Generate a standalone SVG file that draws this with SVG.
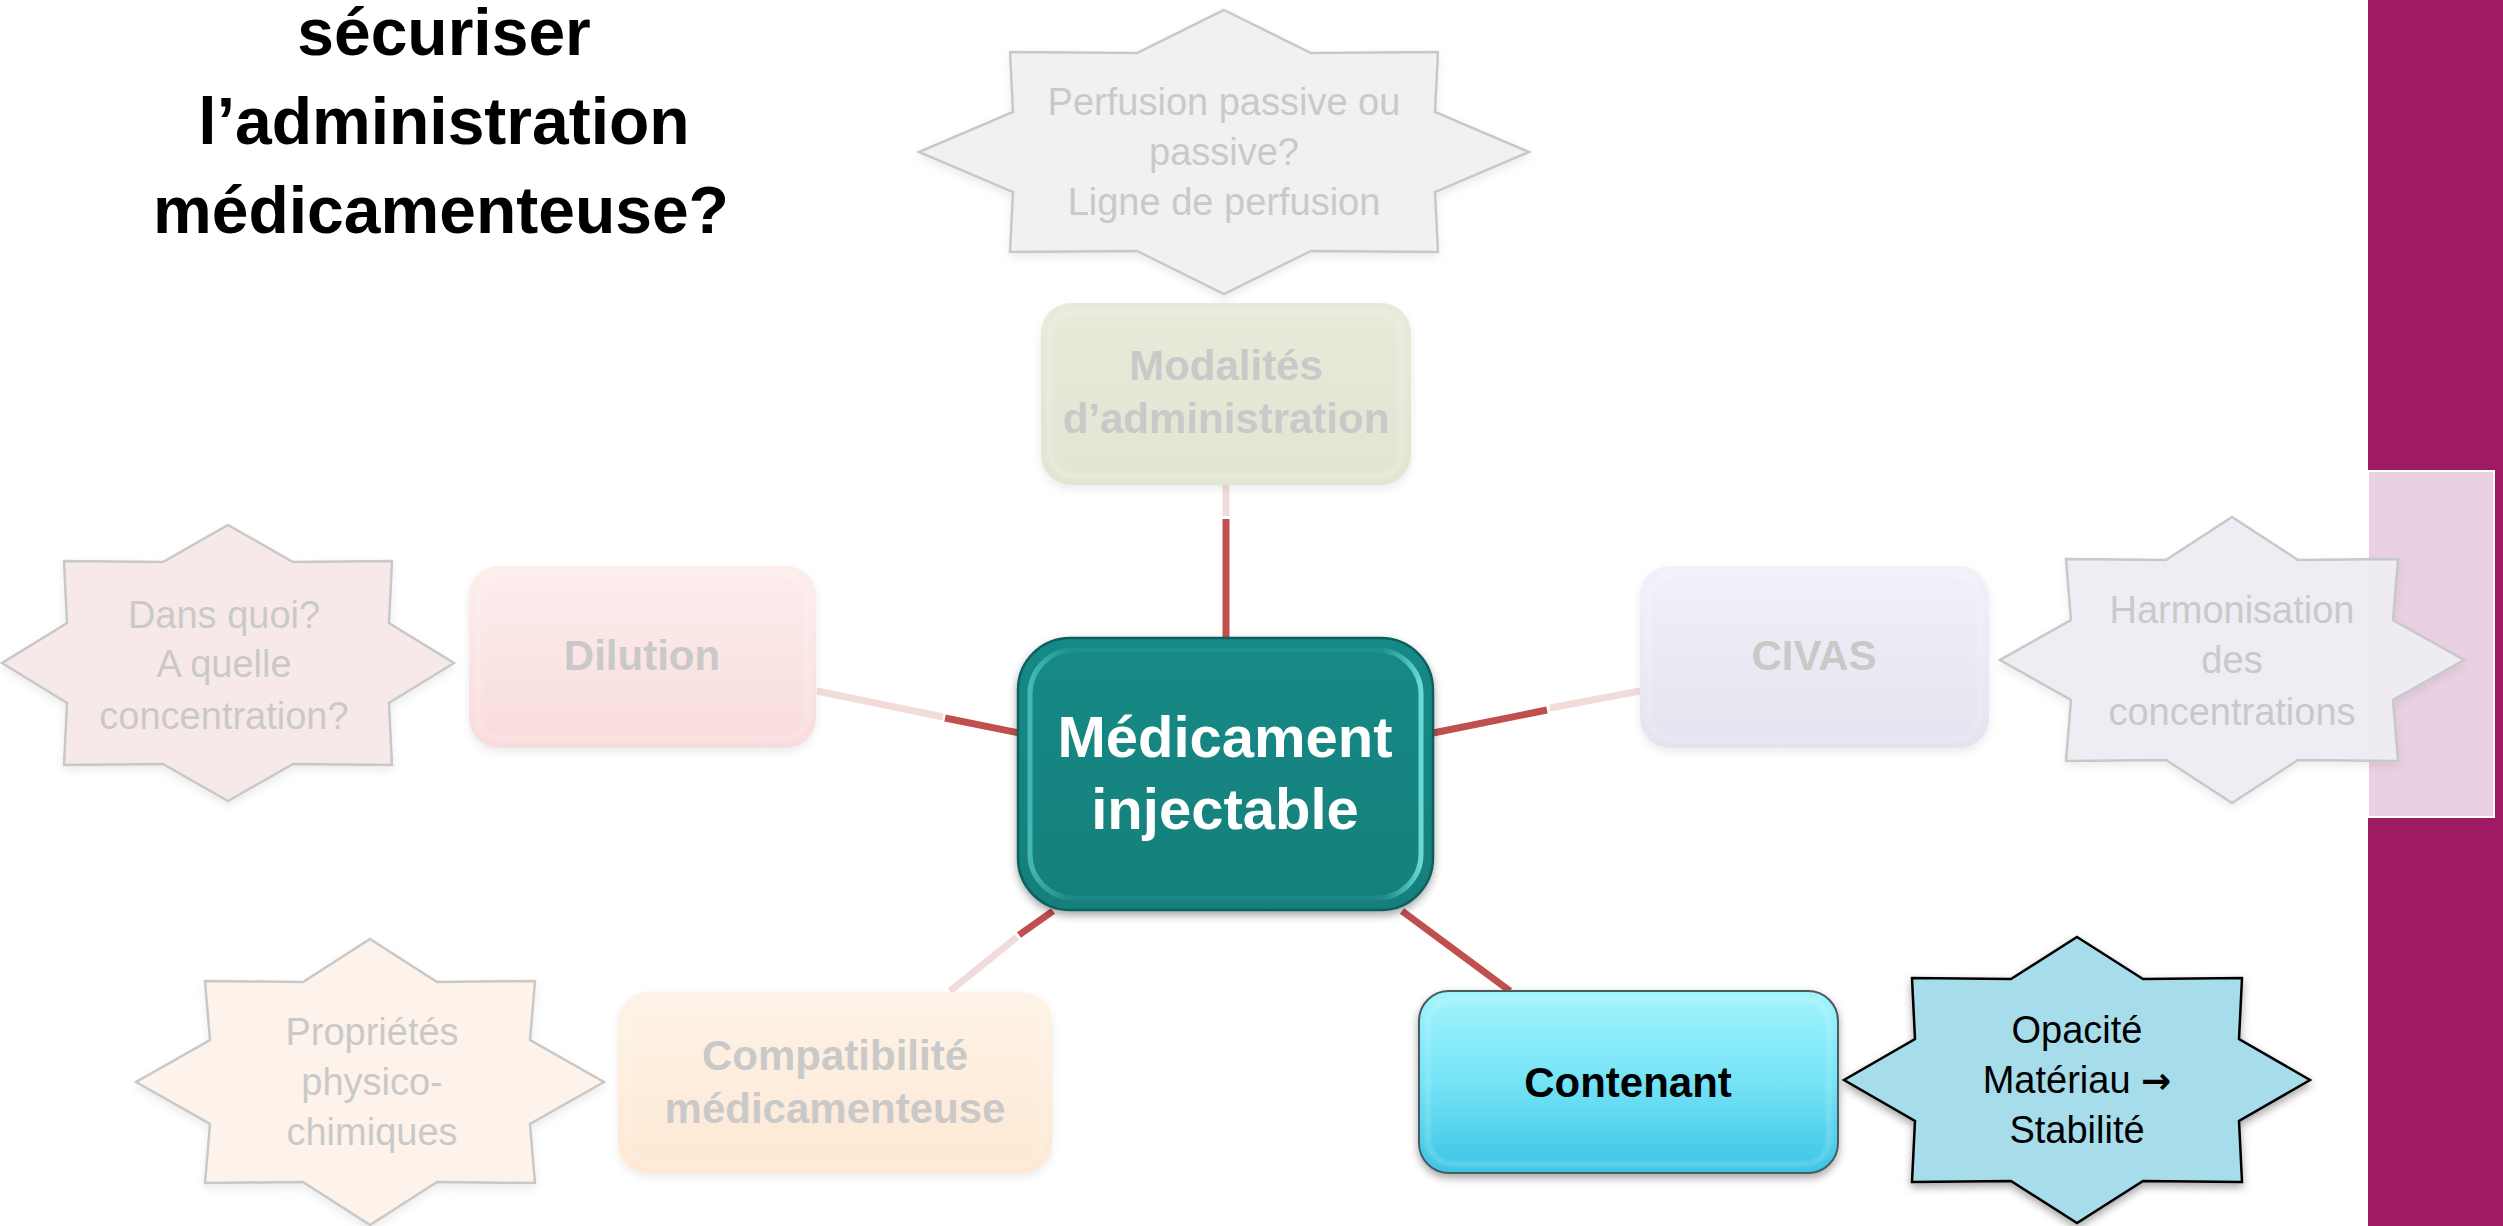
<svg xmlns="http://www.w3.org/2000/svg" width="2503" height="1226" viewBox="0 0 2503 1226">
<defs>
<style>
.t{font-family:"Liberation Sans",Arial,sans-serif;text-anchor:middle}
.title{font-size:66px;font-weight:bold;fill:#000}
.bx{font-size:42px;font-weight:bold}
.st{font-size:38px}
.faded{fill:#C9C9C9}
.center{font-size:58px;font-weight:bold;fill:#FFFFFF}
.red{stroke:#C0504D;stroke-width:7;fill:none}
.pale{stroke:#F2DCDB;stroke-width:7;fill:none}
.fstar{stroke:#C8C8C8;stroke-width:2.5}
.bevel{fill:none;stroke:#FFFFFF;stroke-opacity:0.3;stroke-width:3}
.arrow{font-family:"DejaVu Sans",sans-serif;font-weight:bold;font-size:36px}
</style>
<filter id="sh" x="-10%" y="-10%" width="120%" height="130%">
<feDropShadow dx="0" dy="4" stdDeviation="4" flood-color="#000" flood-opacity="0.35"/>
</filter>
<filter id="shl" x="-10%" y="-10%" width="120%" height="130%">
<feDropShadow dx="0" dy="4" stdDeviation="4" flood-color="#000" flood-opacity="0.08"/>
</filter>
<filter id="blur"><feGaussianBlur stdDeviation="2"/></filter>
<linearGradient id="gTeal" x1="0" y1="0" x2="0" y2="1">
<stop offset="0" stop-color="#168A86"/><stop offset="1" stop-color="#127F7B"/>
</linearGradient>
<linearGradient id="gCyan" x1="0" y1="0" x2="0" y2="1">
<stop offset="0" stop-color="#A3F4FD"/><stop offset="0.5" stop-color="#74E3F6"/><stop offset="1" stop-color="#3BC4E5"/>
</linearGradient>
<linearGradient id="gGreen" x1="0" y1="0" x2="0" y2="1">
<stop offset="0" stop-color="#E6EBDA"/><stop offset="1" stop-color="#E1E6D3"/>
</linearGradient>
<linearGradient id="gPink" x1="0" y1="0" x2="0" y2="1">
<stop offset="0" stop-color="#FDEDED"/><stop offset="1" stop-color="#F9DCDC"/>
</linearGradient>
<linearGradient id="gOrange" x1="0" y1="0" x2="0" y2="1">
<stop offset="0" stop-color="#FEF3E7"/><stop offset="1" stop-color="#FDE8D3"/>
</linearGradient>
<linearGradient id="gLav" x1="0" y1="0" x2="0" y2="1">
<stop offset="0" stop-color="#F3F0FA"/><stop offset="1" stop-color="#E6E2EF"/>
</linearGradient>
<linearGradient id="gTealEdge" x1="0" y1="0" x2="1" y2="0">
<stop offset="0" stop-color="#5FDCDA" stop-opacity="0.6"/><stop offset="0.1" stop-color="#5FDCDA" stop-opacity="0.1"/><stop offset="0.9" stop-color="#5FDCDA" stop-opacity="0.1"/><stop offset="1" stop-color="#7FF0EE" stop-opacity="0.8"/>
</linearGradient>
</defs>

<rect width="2503" height="1226" fill="#FFFFFF"/>

<!-- side band -->
<g id="sideband">
<rect x="2368" y="0" width="135" height="1226" fill="#9E1B64"/>
<rect x="2368" y="471" width="126" height="346" fill="#E9D0E2" stroke="#FFFFFF" stroke-width="2"/>
</g>

<!-- title -->
<g id="title" class="t title">
<text x="444" y="55">sécuriser</text>
<text x="444" y="144">l’administration</text>
<text x="441" y="233">médicamenteuse?</text>
</g>

<!-- connectors -->
<g id="connectors">
<line class="red" x1="1226" y1="638" x2="1226" y2="519"/>
<line class="pale" x1="1226" y1="516" x2="1226" y2="485"/>
<line class="red" x1="1019" y1="733" x2="945" y2="718"/>
<line class="pale" x1="943" y1="717" x2="817" y2="691"/>
<line class="red" x1="1433" y1="733" x2="1547" y2="710"/>
<line class="pale" x1="1550" y1="708" x2="1640" y2="691"/>
<line class="red" x1="1053" y1="911" x2="1019" y2="935"/>
<line class="pale" x1="1017" y1="937" x2="950" y2="991"/>
<line class="red" x1="1402" y1="911" x2="1510" y2="991"/>
</g>

<!-- Perfusion star -->
<g id="star-perfusion">
<polygon class="fstar" fill="#F1F1F1" filter="url(#shl)" points="1224,10 1311,53 1438,52 1435,112 1529,152 1435,192 1438,252 1311,251 1224,294 1137,251 1010,252 1013,192 919,152 1013,112 1010,52 1137,53"/>
<g class="t st faded">
<text x="1224" y="115">Perfusion passive ou</text>
<text x="1224" y="165">passive?</text>
<text x="1224" y="215">Ligne de perfusion</text>
</g>
</g>

<!-- Modalités box -->
<g id="node-modalites">
<rect x="1041" y="303" width="370" height="182" rx="30" fill="url(#gGreen)" filter="url(#shl)"/>
<rect x="1050" y="312" width="352" height="164" rx="24" class="bevel" filter="url(#blur)"/>
<g class="t bx faded">
<text x="1226" y="380">Modalités</text>
<text x="1226" y="433">d’administration</text>
</g>
</g>

<!-- Dans quoi star -->
<g id="star-dilution">
<polygon class="fstar" fill="#F8E9E9" filter="url(#shl)" points="228,525 293,562 392,561 389,623 454,663 389,703 392,765 293,764 228,801 163,764 64,765 67,703 2,663 67,623 64,561 163,562"/>
<g class="t st faded">
<text x="224" y="628">Dans quoi?</text>
<text x="224" y="677">A quelle</text>
<text x="224" y="729">concentration?</text>
</g>
</g>

<!-- Dilution box -->
<g id="node-dilution">
<rect x="469" y="566" width="347" height="182" rx="30" fill="url(#gPink)" filter="url(#shl)"/>
<rect x="478" y="575" width="329" height="164" rx="24" class="bevel" filter="url(#blur)"/>
<text class="t bx faded" x="642" y="670">Dilution</text>
</g>

<!-- CIVAS box -->
<g id="node-civas">
<rect x="1640" y="566" width="349" height="182" rx="30" fill="url(#gLav)" filter="url(#shl)"/>
<rect x="1649" y="575" width="331" height="164" rx="24" class="bevel" filter="url(#blur)"/>
<text class="t bx faded" x="1814" y="670">CIVAS</text>
</g>

<!-- Harmonisation star -->
<g id="star-civas">
<polygon class="fstar" fill="#EFEDF3" fill-opacity="0.95" filter="url(#shl)" points="2232,517 2298,560 2398,559 2393,620 2464,660 2393,700 2398,761 2298,760 2232,803 2166,760 2066,761 2071,700 2000,660 2071,620 2066,559 2166,560"/>
<g class="t st faded">
<text x="2232" y="623">Harmonisation</text>
<text x="2232" y="673">des</text>
<text x="2232" y="725">concentrations</text>
</g>
</g>

<!-- Centre -->
<g id="node-center">
<rect x="1018" y="638" width="415" height="272" rx="52" fill="url(#gTeal)" stroke="#0D605D" stroke-width="2.5" filter="url(#sh)"/>
<rect x="1030" y="650" width="391" height="248" rx="44" fill="none" stroke="url(#gTealEdge)" stroke-width="5"/>
<text class="t center" x="1225" y="757">Médicament</text>
<text class="t center" x="1225" y="829">injectable</text>
</g>

<!-- Compatibilité box -->
<g id="node-compat">
<rect x="618" y="992" width="434" height="181" rx="30" fill="url(#gOrange)" filter="url(#shl)"/>
<rect x="627" y="1001" width="416" height="163" rx="24" class="bevel" filter="url(#blur)"/>
<g class="t bx faded">
<text x="835" y="1070">Compatibilité</text>
<text x="835" y="1123">médicamenteuse</text>
</g>
</g>

<!-- Propriétés star -->
<g id="star-compat">
<polygon class="fstar" fill="#FDF3EA" filter="url(#shl)" points="370,939 437,982 535,981 530,1040 604,1082 530,1124 535,1183 437,1182 370,1225 303,1182 205,1183 210,1124 136,1082 210,1040 205,981 303,982"/>
<g class="t st faded">
<text x="372" y="1045">Propriétés</text>
<text x="372" y="1095">physico-</text>
<text x="372" y="1145">chimiques</text>
</g>
</g>

<!-- Contenant box -->
<g id="node-contenant">
<rect x="1419" y="991" width="419" height="182" rx="30" fill="url(#gCyan)" stroke="#4A5A60" stroke-width="2" filter="url(#sh)"/>
<rect x="1428" y="1000" width="401" height="164" rx="24" class="bevel" filter="url(#blur)"/>
<text class="t bx" x="1628" y="1097" fill="#000">Contenant</text>
</g>

<!-- Opacité star -->
<g id="star-contenant">
<polygon fill="#A7DCEA" stroke="#000" stroke-width="2.5" filter="url(#sh)" points="2077,937 2143,979 2242,978 2239,1039 2310,1080 2239,1121 2242,1182 2143,1181 2077,1223 2011,1181 1912,1182 1915,1121 1844,1080 1915,1039 1912,978 2011,979"/>
<g class="t st" fill="#000">
<text x="2077" y="1043">Opacité</text>
<text x="2077" y="1093">Matériau <tspan class="arrow">→</tspan></text>
<text x="2077" y="1143">Stabilité</text>
</g>
</g>
</svg>
